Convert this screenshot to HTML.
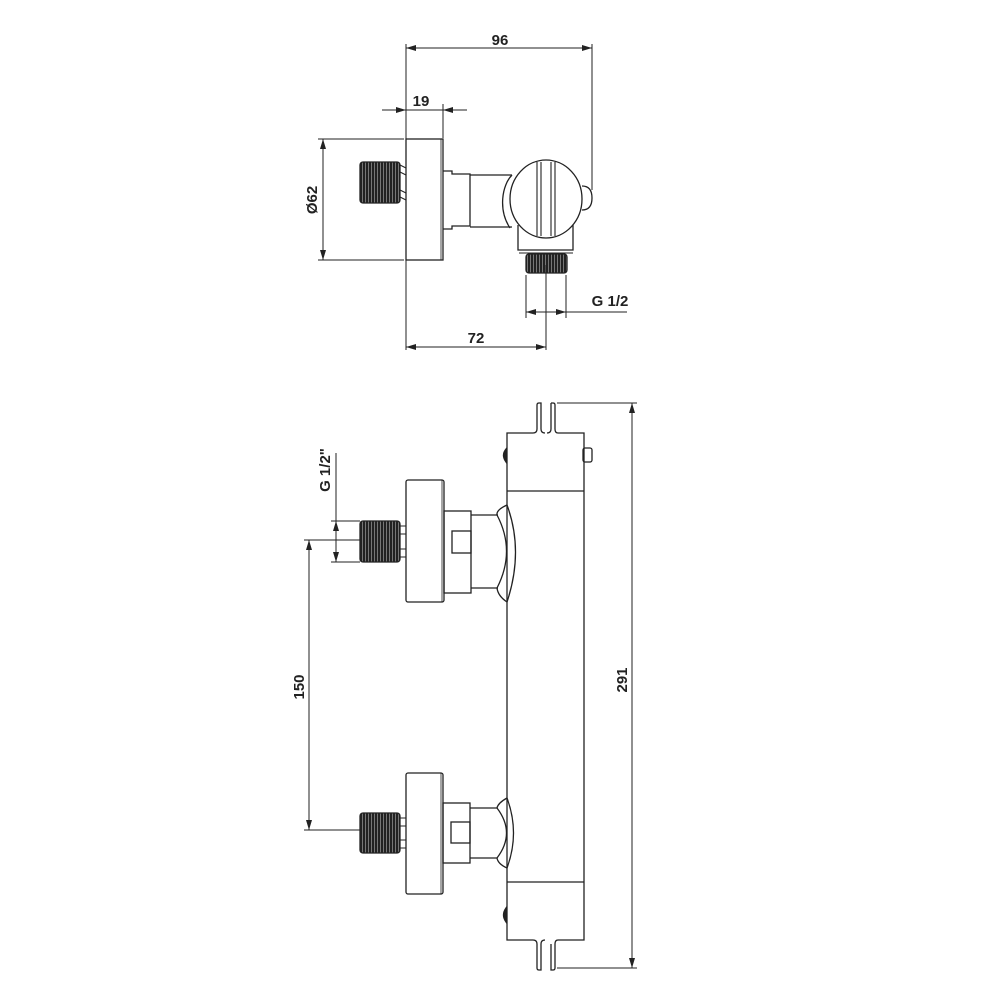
<!DOCTYPE html>
<html><head><meta charset="utf-8"><style>html,body{margin:0;padding:0;background:#fff}svg{display:block}</style></head>
<body>
<svg width="1000" height="1000" viewBox="0 0 1000 1000" xmlns="http://www.w3.org/2000/svg">
<defs>
<pattern id="thr" width="3" height="4" patternUnits="userSpaceOnUse"><rect width="3" height="4" fill="#222"/><rect x="2" width="1" height="4" fill="#777"/></pattern>
<marker id="ar" markerWidth="10" markerHeight="6" refX="10" refY="3" orient="auto" markerUnits="userSpaceOnUse"><path d="M0,0 L10,3 L0,6 z" fill="#222"/></marker>
</defs>
<g fill="none" stroke="#222" stroke-width="1.3">
<!-- ===== TOP VIEW ===== -->
<line x1="406" y1="44" x2="406" y2="350" stroke-width="1"/>
<line x1="592" y1="44" x2="592" y2="190" stroke-width="1"/>
<line x1="500" y1="48" x2="406" y2="48" stroke-width="1" marker-end="url(#ar)"/>
<line x1="500" y1="48" x2="592" y2="48" stroke-width="1" marker-end="url(#ar)"/>
<!-- 19 -->
<line x1="443" y1="104" x2="443" y2="138" stroke-width="1"/>
<line x1="382" y1="110" x2="406" y2="110" stroke-width="1" marker-end="url(#ar)"/>
<line x1="467" y1="110" x2="443" y2="110" stroke-width="1" marker-end="url(#ar)"/>
<line x1="406" y1="110" x2="443" y2="110" stroke-width="1"/>
<!-- Ø62 -->
<line x1="318" y1="139" x2="404" y2="139" stroke-width="1"/>
<line x1="318" y1="260" x2="404" y2="260" stroke-width="1"/>
<line x1="323" y1="200" x2="323" y2="139" stroke-width="1" marker-end="url(#ar)"/>
<line x1="323" y1="200" x2="323" y2="260" stroke-width="1" marker-end="url(#ar)"/>
<rect x="406" y="139" width="37" height="121"/>
<line x1="441" y1="139" x2="441" y2="260" stroke-width="0.8"/>
<rect x="360" y="162" width="40" height="41" rx="3" fill="url(#thr)" stroke="#222"/>
<path d="M400,165 L406,168 M400,172 L406,175 M400,190 L406,193 M400,197 L406,200" stroke-width="1"/>
<path d="M443,171 H452 V174 H470 V226 H452 V229 H443"/>
<path d="M470,175 H512 M470,227 H512"/>
<path d="M518,225 V250 H573 V225"/>
<rect x="526" y="254" width="41" height="19" rx="3" fill="url(#thr)"/>
<path d="M519,253 H573" stroke-width="1"/>
<path d="M512,175 C502,185 498,210 510,228" />
<ellipse cx="546" cy="199" rx="36" ry="39" fill="#fff"/>
<path d="M537,162 V236 M541,162 V236 M551,162 V236 M555,162 V236" stroke-width="1.1"/>
<path d="M582,186 Q592,186 592,198 Q592,210 582,210"/>
<line x1="526" y1="275" x2="526" y2="318" stroke-width="1"/>
<line x1="566" y1="275" x2="566" y2="318" stroke-width="1"/>
<line x1="546" y1="265" x2="546" y2="350" stroke-width="1"/>
<line x1="546" y1="312" x2="526" y2="312" stroke-width="1" marker-end="url(#ar)"/>
<line x1="546" y1="312" x2="566" y2="312" stroke-width="1" marker-end="url(#ar)"/>
<line x1="566" y1="312" x2="627" y2="312" stroke-width="1"/>
<line x1="476" y1="347" x2="406" y2="347" stroke-width="1" marker-end="url(#ar)"/>
<line x1="476" y1="347" x2="546" y2="347" stroke-width="1" marker-end="url(#ar)"/>

<!-- ===== FRONT VIEW ===== -->
<path d="M545,433 Q541,433 541,429 V403 H539 Q537,403 537,405 V429 Q537,433 533,433 H507 V940 H533 Q537,940 537,944 V968 Q537,970 539,970 H541 V944 Q541,940 545,940"/>
<path d="M551,403 H553 Q555,403 555,405 V429 Q555,433 558,433 H584 V940 H558 Q555,940 555,944 V968 Q555,970 553,970 H551 V944 M551,403 V429 Q551,433 547,433" />
<line x1="507" y1="491" x2="584" y2="491"/>
<line x1="507" y1="882" x2="584" y2="882"/>
<rect x="583" y="448" width="9" height="14" rx="2"/>
<path d="M506,449 Q501,455 506,462 Z" fill="#222"/>
<path d="M506,908 Q501,915 506,922 Z" fill="#222"/>
<line x1="557" y1="403" x2="637" y2="403" stroke-width="1"/>
<line x1="557" y1="968" x2="637" y2="968" stroke-width="1"/>
<line x1="632" y1="680" x2="632" y2="403" stroke-width="1" marker-end="url(#ar)"/>
<line x1="632" y1="680" x2="632" y2="968" stroke-width="1" marker-end="url(#ar)"/>

<rect x="406" y="480" width="38" height="122" rx="2"/>
<line x1="442" y1="480" x2="442" y2="602" stroke-width="0.8"/>
<rect x="360" y="521" width="40" height="41" rx="3" fill="url(#thr)"/>
<path d="M400,526 H406 M400,534 H406 M400,549 H406 M400,557 H406" stroke-width="1"/>
<rect x="444" y="511" width="27" height="82"/>
<rect x="452" y="531" width="19" height="22"/>
<path d="M471,515 H498 M471,588 H498"/>
<path d="M507,505 Q496,510 497,515 M497,515 Q516,551 497,588 M497,588 Q498,596 507,602 M507,505 Q524,551 507,602"/>
<rect x="406" y="773" width="37" height="121" rx="2"/>
<line x1="441" y1="773" x2="441" y2="894" stroke-width="0.8"/>
<rect x="360" y="813" width="40" height="40" rx="3" fill="url(#thr)"/>
<path d="M400,818 H406 M400,826 H406 M400,840 H406 M400,848 H406" stroke-width="1"/>
<rect x="443" y="803" width="27" height="60"/>
<rect x="451" y="822" width="19" height="21"/>
<path d="M470,808 H497 M470,858 H497"/>
<path d="M507,798 Q498,803 497,808 M497,808 Q516,833 497,858 M497,858 Q498,864 507,868 M507,798 Q520,833 507,868"/>
<line x1="331" y1="521" x2="360" y2="521" stroke-width="1"/>
<line x1="331" y1="562" x2="360" y2="562" stroke-width="1"/>
<line x1="336" y1="453" x2="336" y2="521" stroke-width="1"/>
<line x1="336" y1="541" x2="336" y2="521" stroke-width="1" marker-end="url(#ar)"/>
<line x1="336" y1="541" x2="336" y2="562" stroke-width="1" marker-end="url(#ar)"/>
<line x1="304" y1="540" x2="360" y2="540" stroke-width="1"/>
<line x1="304" y1="830" x2="360" y2="830" stroke-width="1"/>
<line x1="309" y1="685" x2="309" y2="540" stroke-width="1" marker-end="url(#ar)"/>
<line x1="309" y1="685" x2="309" y2="830" stroke-width="1" marker-end="url(#ar)"/>
</g>
<g font-family="'Liberation Sans Narrow','Liberation Sans',sans-serif" font-size="15" font-weight="bold" fill="#222" text-anchor="middle">
<text x="500" y="45">96</text>
<text x="421" y="106">19</text>
<text x="476" y="343">72</text>
<text x="610" y="306">G 1/2</text>
<text transform="translate(317,200) rotate(-90)">Ø62</text>
<text transform="translate(330,470) rotate(-90)">G 1/2"</text>
<text transform="translate(304,687) rotate(-90)">150</text>
<text transform="translate(627,680) rotate(-90)">291</text>
</g>
</svg>
</body></html>
